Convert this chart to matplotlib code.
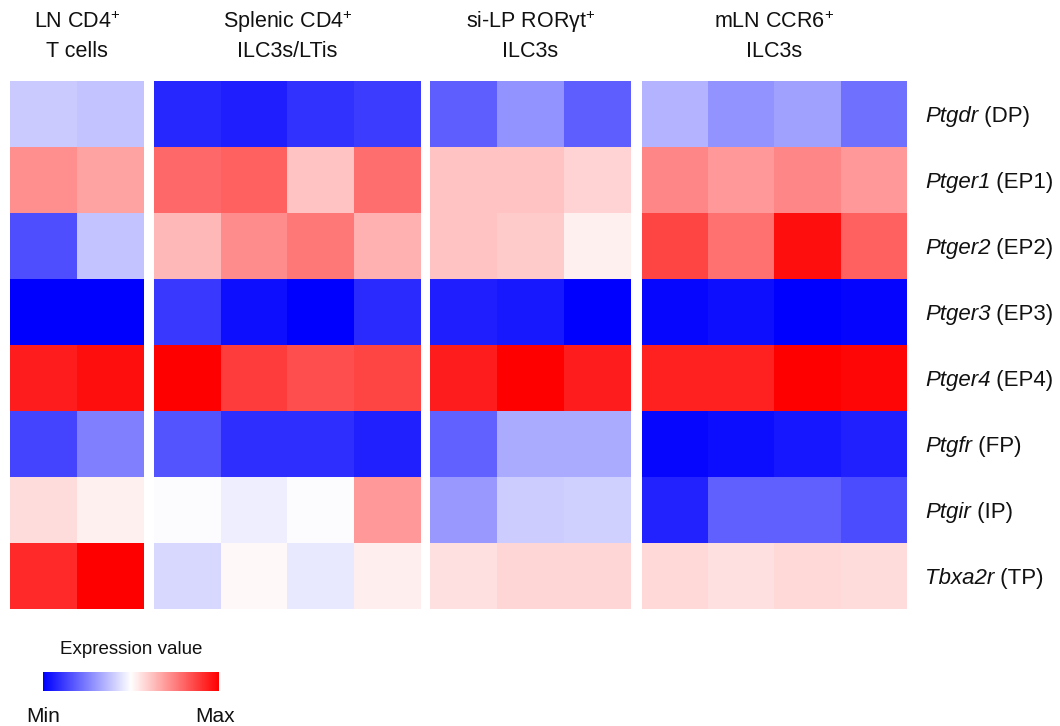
import numpy as np
import matplotlib
import matplotlib.pyplot as plt

plt.rcParams['font.family'] = ['Liberation Sans', 'DejaVu Sans']
plt.rcParams['mathtext.fontset'] = 'custom'
plt.rcParams['mathtext.rm'] = 'Liberation Sans'
plt.rcParams['mathtext.it'] = 'Liberation Sans:italic'
plt.rcParams['mathtext.default'] = 'regular'

genes = ["Ptgdr", "Ptger1", "Ptger2", "Ptger3", "Ptger4", "Ptgfr", "Ptgir", "Tbxa2r"]
receptors = ["DP", "EP1", "EP2", "EP3", "EP4", "FP", "IP", "TP"]

groups = [("LN CD4$^{+}$", "T cells"),
          ("Splenic CD4$^{+}$", "ILC3s/LTis"),
          ("si-LP ROR\u03b3t$^{+}$", "ILC3s"),
          ("mLN CCR6$^{+}$", "ILC3s")]

# scaled expression (-1 = min, 1 = max), rows = genes
ln_cd4 = [[-0.21, -0.23],
          [0.44, 0.36],
          [-0.69, -0.23],
          [-1.00, -1.00],
          [0.89, 0.94],
          [-0.73, -0.50],
          [0.14, 0.06],
          [0.83, 1.00]]

splenic = [[-0.85, -0.88, -0.80, -0.76],
           [0.59, 0.62, 0.23, 0.57],
           [0.28, 0.45, 0.53, 0.31],
           [-0.78, -0.94, -1.00, -0.83],
           [1.00, 0.76, 0.69, 0.73],
           [-0.67, -0.82, -0.82, -0.87],
           [-0.01, -0.07, -0.01, 0.40],
           [-0.15, 0.03, -0.09, 0.07]]

silp = [[-0.63, -0.42, -0.63],
        [0.23, 0.23, 0.17],
        [0.23, 0.21, 0.06],
        [-0.88, -0.90, -1.00],
        [0.89, 1.00, 0.89],
        [-0.61, -0.33, -0.33],
        [-0.40, -0.20, -0.18],
        [0.12, 0.16, 0.16]]

mln = [[-0.29, -0.42, -0.37, -0.56],
       [0.47, 0.40, 0.47, 0.40],
       [0.73, 0.56, 0.94, 0.62],
       [-0.97, -0.94, -1.00, -0.98],
       [0.87, 0.87, 1.00, 0.97],
       [-0.97, -0.95, -0.91, -0.87],
       [-0.86, -0.62, -0.62, -0.70],
       [0.15, 0.12, 0.15, 0.14]]

panels = [ln_cd4, splenic, silp, mln]

W, H = 1060, 726
fig = plt.figure(figsize=(W / 100, H / 100), dpi=100)
renderer = fig.canvas.get_renderer()
ink = '#111111'

# panel pixel extents (left, right)
extents = [(10, 144), (154, 421), (430, 631), (642, 907)]
top, bottom = 81, 609
cmap = plt.get_cmap('bwr')

for data, (x0, x1), (line1, line2) in zip(panels, extents, groups):
    ax = fig.add_axes([x0 / W, 1 - bottom / H, (x1 - x0) / W, (bottom - top) / H])
    ax.imshow(np.array(data), cmap=cmap, vmin=-1, vmax=1, aspect='auto',
              interpolation='nearest')
    ax.set_axis_off()
    xc = (x0 + x1) / 2 / W
    fig.text(xc, 1 - 28 / H, line1, ha='center', va='baseline',
             fontsize=15.5, color=ink)
    fig.text(xc, 1 - 57 / H, line2, ha='center', va='baseline',
             fontsize=15.5, color=ink)

# row labels: italic gene symbol + receptor name
for i, (g, r) in enumerate(zip(genes, receptors)):
    y = top + (i + 0.5) * (bottom - top) / len(genes) + 8
    t = fig.text(925 / W, 1 - y / H, g, ha='left', va='baseline',
                 fontsize=16, style='italic', color=ink)
    w = t.get_window_extent(renderer).width
    fig.text((925 + w) / W, 1 - y / H, " (" + r + ")", ha='left',
             va='baseline', fontsize=16, color=ink)

# colour key
cax = fig.add_axes([43 / W, 1 - 691 / H, 176 / W, 19 / H])
cax.imshow(np.linspace(-1, 1, 256)[None, :], cmap=cmap, aspect='auto',
           vmin=-1, vmax=1)
cax.set_axis_off()
fig.text(131 / W, 1 - 650 / H, "Expression value", ha='center', va='center',
         fontsize=13.5, color=ink)
fig.text(43 / W, 1 - 716 / H, "Min", ha='center', va='center',
         fontsize=15, color=ink)
fig.text(215 / W, 1 - 716 / H, "Max", ha='center', va='center',
         fontsize=15, color=ink)

fig.savefig('out.png', dpi=100)
